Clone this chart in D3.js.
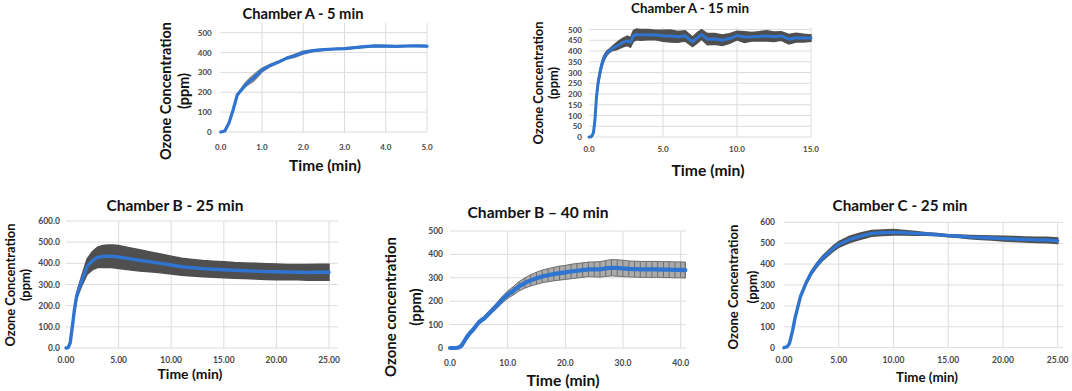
<!DOCTYPE html>
<html lang="en">
<head>
<meta charset="UTF-8">
<script src="https://cdn.jsdelivr.net/npm/d3@7"></script>
<title>Ozone concentration in chambers</title>
<style>
  body { margin: 0; background: #fff; }
  svg { display: block; font-family: Lato, "Open Sans", sans-serif; }
  .tick-label { font-weight: 700; fill: #474747; }
  .title, .axis-title { font-weight: 700; fill: #111; }
</style>
</head>
<body>
<svg width="1072" height="391"></svg>
<script>
// Chamber A - 5 min
const a5Time = [0, 0.1, 0.2, 0.3, 0.4, 0.5, 0.6, 0.7, 0.8, 0.9, 1.0, 1.2, 1.4, 1.6, 1.8, 2.0, 2.25, 2.5, 2.75, 3.0, 3.25, 3.5, 3.75, 4.0, 4.25, 4.5, 4.75, 5.0];
const a5Mean = [0, 5, 45, 111, 186, 212, 238, 256, 272, 292, 312, 335, 352, 372, 384, 400, 410, 415, 418, 420, 425, 430, 434, 432, 431, 433, 434, 432];
const a5Sd   = [0, 1, 2, 3, 4, 6, 10, 14, 16, 14, 10, 5, 4, 4, 8, 8, 4, 3, 3, 3, 3, 3, 3, 3, 3, 3, 3, 3];

// Chamber A - 15 min
const a15Time = [0, 0.1, 0.2, 0.3, 0.4, 0.5, 0.6, 0.7, 0.8, 0.9, 1.0, 1.2, 1.4, 1.6, 1.8, 2.0, 2.3, 2.6, 2.8, 3.0, 3.2, 3.5, 4.0, 4.5, 5.0, 5.5, 6.0, 6.5, 7.0, 7.3, 7.6, 8.0, 8.5, 9.0, 9.5, 10.0, 10.5, 11.0, 11.5, 12.0, 12.5, 13.0, 13.5, 14.0, 14.5, 15.0];
const a15Mean = [0, 0, 5, 20, 78, 180, 245, 285, 318, 345, 365, 390, 402, 413, 420, 428, 440, 447, 440, 470, 477, 475, 476, 474, 471, 470, 466, 470, 443, 460, 477, 455, 456, 450, 458, 472, 465, 466, 468, 470, 466, 470, 455, 462, 460, 460];
const a15Sd   = [0, 0, 1, 3, 5, 8, 12, 15, 15, 14, 12, 10, 8, 10, 15, 18, 20, 22, 22, 25, 25, 25, 24, 22, 26, 28, 25, 24, 22, 24, 22, 26, 25, 24, 22, 20, 25, 20, 22, 24, 22, 20, 22, 20, 18, 15];

// Chamber B - 25 min
const b25Time = [0, 0.2, 0.4, 0.6, 0.8, 1.0, 1.25, 1.5, 1.75, 2.0, 2.5, 3.0, 3.5, 4.0, 4.5, 5.0, 6.0, 7.0, 8.0, 9.0, 10.0, 11, 12, 13, 14, 15, 16, 17, 18, 19, 20, 21, 22, 23, 24, 25];
const b25Mean = [0, 2, 25, 100, 180, 242, 282, 318, 350, 384, 412, 428, 432, 434, 433, 430, 422, 414, 407, 400, 392, 384, 379, 375, 372, 370, 367, 365, 363, 361, 360, 359, 358, 357, 358, 358];
const b25Sd   = [0, 1, 3, 6, 10, 14, 18, 24, 30, 36, 43, 48, 52, 53, 54, 54, 52, 50, 47, 44, 42, 40, 39, 38, 38, 38, 37, 37, 37, 37, 37, 36, 36, 37, 38, 38];

// Chamber B - 40 min
const b40Time = [0, 1, 1.5, 2, 2.5, 3, 3.5, 4, 5, 6, 7, 8, 9, 10, 11, 12, 13, 14, 15, 16, 17, 18, 19, 20, 21, 22, 23, 24, 25, 26, 27, 28, 29, 30, 31, 32, 33, 34, 35, 36, 37, 38, 39, 40, 40.8];
const b40Mean = [0, 0, 2, 10, 30, 50, 65, 78, 110, 128, 154, 178, 205, 228, 245, 264, 278, 289, 298, 306, 311, 316, 320, 323, 327, 330, 333, 336, 336, 336, 340, 343, 342, 340, 338, 337, 336, 336, 336, 336, 335, 335, 334, 334, 333];
const b40Sd   = [0, 0, 0, 1, 3, 4, 5, 6, 8, 8, 10, 12, 14, 16, 18, 20, 22, 24, 26, 27, 28, 29, 30, 30, 31, 31, 31, 31, 32, 33, 34, 35, 35, 35, 34, 34, 34, 34, 34, 34, 34, 34, 34, 34, 34];

// Chamber C - 25 min
const c25Time = [0, 0.3, 0.5, 0.8, 1.0, 1.5, 2.0, 2.5, 3.0, 3.5, 4.0, 4.5, 5.0, 6.0, 7.0, 8.0, 9.0, 10.0, 11.0, 12.0, 13.0, 14.0, 15.0, 16, 17, 18, 19, 20, 21, 22, 23, 24, 25];
const c25Mean = [0, 5, 21, 85, 140, 244, 308, 359, 396, 427, 451, 475, 494, 518, 534, 547, 550, 552, 550, 547, 544, 541, 536, 533, 529, 527, 525, 522, 520, 518, 516, 515, 512];
const c25Sd   = [0, 1, 2, 4, 5, 6, 8, 9, 10, 11, 12, 13, 14, 15, 15, 14, 13, 13, 11, 9, 6, 5, 5, 6, 8, 9, 10, 11, 12, 12, 13, 13, 13];

// tick labels
const ticksA5X  = [0, 1, 2, 3, 4, 5];
const ticksA5Y  = [0, 100, 200, 300, 400, 500];
const ticksA15X = [0, 5, 10, 15];
const ticksA15Y = [0, 50, 100, 150, 200, 250, 300, 350, 400, 450, 500];
const ticksB25X = [0, 5, 10, 15, 20, 25];
const ticksB25Y = [0, 100, 200, 300, 400, 500, 600];
const ticksB40X = [0, 10, 20, 30, 40];
const ticksB40Y = [0, 100, 200, 300, 400, 500];
const ticksC25X = [0, 5, 10, 15, 20, 25];
const ticksC25Y = [0, 100, 200, 300, 400, 500, 600];

const panels = [
  { title: "Chamber A - 5 min", time: a5Time, mean: a5Mean, sd: a5Sd,
    xTicks: ticksA5X, yTicks: ticksA5Y, xFmt: ".1f", yFmt: "d", xMax: 5, yMax: 500,
    left: 220.7, right: 427, bottom: 132, top: 32.7, gridTop: 23, gridRight: 427,
    yLabGap: 9, xLabGap: 15, tickSize: 8, band: "#8c8c8c", lineW: 3.2,
    titlePos: [303, 13, 121], yTitle: "Ozone Concentration", yTitlePos: [165, 91, 138], ppmX: 183,
    xTitlePos: [325, 165, 72] },
  { title: "Chamber A - 15 min", time: a15Time, mean: a15Mean, sd: a15Sd,
    xTicks: ticksA15X, yTicks: ticksA15Y, xFmt: ".1f", yFmt: "d", xMax: 15, yMax: 500,
    left: 589, right: 811, bottom: 137, top: 29.5, gridTop: 27, gridRight: 811,
    yLabGap: 7, xLabGap: 12, tickSize: 8, band: "#4f4f4f", lineW: 3,
    titlePos: [690, 8, 118], yTitle: "Ozone Concentration", yTitlePos: [538, 83, 123], ppmX: 553,
    xTitlePos: [708, 170, 73] },
  { title: "Chamber B - 25 min", time: b25Time, mean: b25Mean, sd: b25Sd,
    xTicks: ticksB25X, yTicks: ticksB25Y, xFmt: ".2f", yFmt: ".1f", xMax: 25, yMax: 600,
    left: 66, right: 329, bottom: 348, top: 221, gridTop: 221, gridRight: 338,
    yLabGap: 6, xLabGap: 12, tickSize: 8.5, band: "#4f4f4f", lineW: 3.4,
    titlePos: [175, 205, 137], yTitle: "Ozone Concentration", yTitlePos: [10, 285, 123], ppmX: 25,
    xTitlePos: [190, 373, 65] },
  { title: "Chamber B \u2013 40 min", time: b40Time, mean: b40Mean, sd: b40Sd,
    xTicks: ticksB40X, yTicks: ticksB40Y, xFmt: ".1f", yFmt: "d", xMax: 40, yMax: 500,
    left: 450, right: 680.7, bottom: 348, top: 231, gridTop: 231, gridRight: 686,
    yLabGap: 7, xLabGap: 15, tickSize: 8.5, band: "bars", lineW: 4.2,
    titlePos: [538, 212, 141], yTitle: "Ozone concentration", yTitlePos: [390, 307, 140], ppmX: 415,
    xTitlePos: [563, 380, 73] },
  { title: "Chamber C - 25 min", time: c25Time, mean: c25Mean, sd: c25Sd,
    xTicks: ticksC25X, yTicks: ticksC25Y, xFmt: ".2f", yFmt: "d", xMax: 25, yMax: 600,
    left: 784, right: 1057.7, bottom: 347.7, top: 222.3, gridTop: 222.3, gridRight: 1063,
    yLabGap: 9, xLabGap: 12, tickSize: 8.5, band: "#4f4f4f", lineW: 3.4,
    titlePos: [900, 205, 135], yTitle: "Ozone Concentration", yTitlePos: [733, 287, 125], ppmX: 752,
    xTitlePos: [927, 377, 62] }
];

const svg = d3.select("svg");

// scale a text's font so that it is the given width
function fit(sel, width) {
  const n = sel.node();
  const w = n.getComputedTextLength();
  const fs = parseFloat(sel.attr("font-size"));
  sel.attr("font-size", fs * width / w);
}

panels.forEach(p => {
  const g = svg.append("g");
  const x = d3.scaleLinear().domain([0, p.xMax]).range([p.left, p.right]);
  const y = d3.scaleLinear().domain([0, p.yMax]).range([p.bottom, p.top]);
  const pts = p.time.map((t, i) => ({t: t, m: p.mean[i], s: p.sd[i]}));

  // gridlines
  g.selectAll(".hgrid").data(p.yTicks).join("line")
    .attr("x1", p.left).attr("x2", p.gridRight)
    .attr("y1", d => y(d)).attr("y2", d => y(d))
    .attr("stroke", "#dcdcdc").attr("stroke-width", 1);
  g.selectAll(".vgrid").data(p.xTicks.filter(d => d > 0)).join("line")
    .attr("x1", d => x(d)).attr("x2", d => x(d))
    .attr("y1", p.gridTop).attr("y2", p.bottom)
    .attr("stroke", "#dcdcdc").attr("stroke-width", 1);

  // tick labels
  g.append("g").selectAll("text").data(p.yTicks).join("text")
    .attr("class", "tick-label")
    .attr("font-size", p.tickSize)
    .attr("x", p.left - p.yLabGap).attr("y", d => y(d))
    .attr("text-anchor", "end").attr("dominant-baseline", "central")
    .text(d3.format(p.yFmt));
  g.append("g").selectAll("text").data(p.xTicks).join("text")
    .attr("class", "tick-label")
    .attr("font-size", p.tickSize)
    .attr("x", d => x(d)).attr("y", p.bottom + p.xLabGap)
    .attr("text-anchor", "middle").attr("dominant-baseline", "central")
    .text(d3.format(p.xFmt));

  // error band
  const area = d3.area().x(d => x(d.t)).y0(d => y(d.m - d.s)).y1(d => y(d.m + d.s));
  if (p.band === "bars") {
    g.append("path").datum(pts).attr("d", area)
      .attr("fill", "#ababab").attr("stroke", "#6e6e6e").attr("stroke-width", 1);
    g.selectAll(".ebar").data(pts).join("line")
      .attr("x1", d => x(d.t)).attr("x2", d => x(d.t))
      .attr("y1", d => y(d.m - d.s)).attr("y2", d => y(d.m + d.s))
      .attr("stroke", "#6e6e6e").attr("stroke-width", 1);
  } else {
    g.append("path").datum(pts).attr("d", area)
      .attr("fill", p.band).attr("stroke", p.band).attr("stroke-width", 1.5);
  }

  // mean line
  g.append("path").datum(pts)
    .attr("d", d3.line().x(d => x(d.t)).y(d => y(d.m)))
    .attr("fill", "none").attr("stroke", "#2f74d0").attr("stroke-width", p.lineW)
    .attr("stroke-linejoin", "round").attr("stroke-linecap", "round");

  // titles
  const tt = g.append("text").attr("class", "title")
    .attr("x", p.titlePos[0]).attr("y", p.titlePos[1]).attr("font-size", 14)
    .attr("text-anchor", "middle").attr("dominant-baseline", "central")
    .text(p.title);
  fit(tt, p.titlePos[2]);

  const yt = g.append("text").attr("class", "axis-title")
    .attr("transform", `translate(${p.yTitlePos[0]},${p.yTitlePos[1]}) rotate(-90)`)
    .attr("font-size", 14)
    .attr("text-anchor", "middle").attr("dominant-baseline", "central")
    .text(p.yTitle);
  fit(yt, p.yTitlePos[2]);
  g.append("text").attr("class", "axis-title")
    .attr("transform", `translate(${p.ppmX},${p.yTitlePos[1]}) rotate(-90)`)
    .attr("font-size", yt.attr("font-size"))
    .attr("text-anchor", "middle").attr("dominant-baseline", "central")
    .text("(ppm)");

  const xt = g.append("text").attr("class", "axis-title")
    .attr("x", p.xTitlePos[0]).attr("y", p.xTitlePos[1]).attr("font-size", 14)
    .attr("text-anchor", "middle").attr("dominant-baseline", "central")
    .text("Time (min)");
  fit(xt, p.xTitlePos[2]);
});
</script>
</body>
</html>
